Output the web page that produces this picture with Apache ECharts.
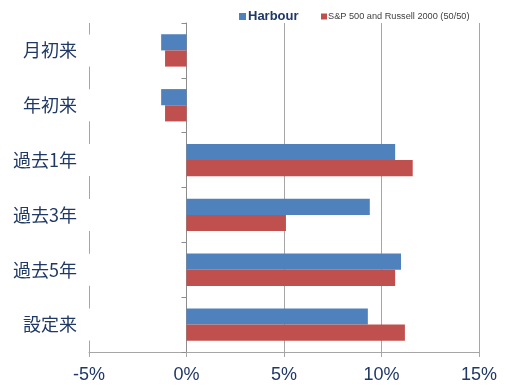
<!DOCTYPE html>
<html>
<head>
<meta charset="utf-8">
<script src="https://cdn.jsdelivr.net/npm/echarts@6/dist/echarts.min.js"></script>
<style>
  html, body { margin: 0; padding: 0; background: #fff; }
  #chart { width: 512px; height: 392px; }
</style>
</head>
<body>
<div id="chart"></div>
<script>
// Periods, top to bottom
const periods = ['月初来', '年初来', '過去1年', '過去3年', '過去5年', '設定来'];
// Returns in percent
const harbour = [-1.3, -1.3, 10.7, 9.4, 11.0, 9.3];
const benchmark = [-1.1, -1.1, 11.6, 5.1, 10.7, 11.2];
const seriesNames = ['Harbour', 'S&P 500 and Russell 2000 (50/50)'];
const xTicks = { min: -5, max: 15, step: 5 };

const gridGray = '#a6a6a6';
const textBlue = '#1f3864';

const chart = echarts.init(document.getElementById('chart'), null, { renderer: 'canvas' });
chart.setOption({
  animation: false,
  legend: [
    {
      data: [seriesNames[0]],
      left: 234, top: 5,
      icon: 'rect', itemWidth: 7, itemHeight: 7,
      textStyle: { fontFamily: 'Liberation Sans', fontSize: 13, fontWeight: 'bold', color: textBlue, padding: [0, 0, 0, -3] }
    },
    {
      data: [seriesNames[1]],
      left: 316, top: 7,
      icon: 'rect', itemWidth: 6, itemHeight: 6,
      textStyle: { fontFamily: 'Liberation Sans', fontSize: 9.2, color: '#404040', padding: [0, 0, 0, -4] }
    }
  ],
  grid: { left: 89, right: 33, top: 23, bottom: 40, containLabel: false },
  xAxis: {
    type: 'value',
    min: xTicks.min, max: xTicks.max, interval: xTicks.step,
    axisLine: { show: true, lineStyle: { color: gridGray, width: 1 } },
    axisTick: { show: true, length: 5, lineStyle: { color: gridGray } },
    splitLine: { show: true, lineStyle: { color: gridGray, width: 1 } },
    axisLabel: {
      formatter: '{value}%', margin: 14,
      fontFamily: 'Liberation Sans', fontSize: 18, color: textBlue
    }
  },
  yAxis: [
    {
      // period labels on the left, boxed in white
      type: 'category', data: periods, inverse: true, z: 5,
      axisLine: { show: false, onZero: false },
      axisTick: { show: false },
      axisLabel: {
        margin: -2,
        fontFamily: 'Noto Sans CJK JP', fontSize: 18, lineHeight: 18, color: textBlue,
        backgroundColor: '#fff',
        padding: [6, 14, 8, 4]
      }
    },
    {
      // zero line with category boundary ticks
      type: 'category', data: periods, inverse: true, position: 'left',
      axisLine: { show: true, onZero: true, lineStyle: { color: '#8c8c8c', width: 1 } },
      axisTick: { show: true, length: 5, inside: false, lineStyle: { color: '#8c8c8c' } },
      axisLabel: { show: false }
    }
  ],
  series: [
    {
      name: seriesNames[0], type: 'bar', yAxisIndex: 0,
      data: harbour, barGap: '0%', barCategoryGap: '41%',
      itemStyle: { color: '#4f81bd' }
    },
    {
      name: seriesNames[1], type: 'bar', yAxisIndex: 0,
      data: benchmark, barGap: '0%', barCategoryGap: '41%',
      itemStyle: { color: '#c0504d' }
    }
  ]
});
</script>
</body>
</html>
